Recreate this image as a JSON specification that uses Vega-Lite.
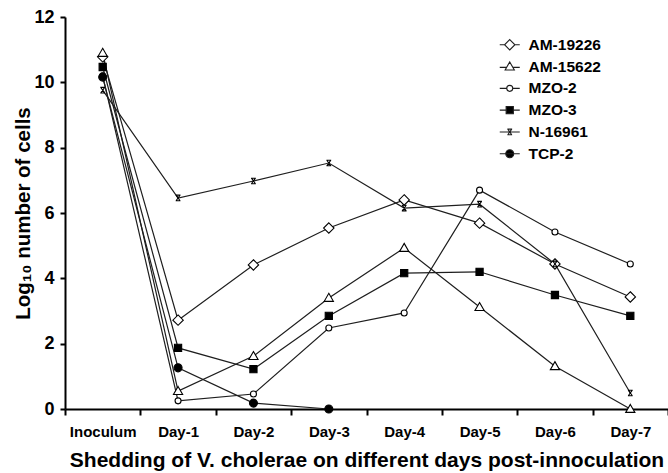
{
  "$schema": "https://vega.github.io/schema/vega-lite/v6.json",
  "width": 603,
  "height": 392,
  "autosize": "none",
  "padding": {"left": 65, "top": 17, "right": 0, "bottom": 64},
  "background": "white",
  "config": {"view": {"stroke": null}, "font": "Liberation Sans"},
  "data": {"values": [
    {"series": "AM-19226", "day": "Inoculum", "value": 10.78},
    {"series": "AM-19226", "day": "Day-1", "value": 2.72},
    {"series": "AM-19226", "day": "Day-2", "value": 4.41},
    {"series": "AM-19226", "day": "Day-3", "value": 5.54},
    {"series": "AM-19226", "day": "Day-4", "value": 6.4},
    {"series": "AM-19226", "day": "Day-5", "value": 5.69},
    {"series": "AM-19226", "day": "Day-6", "value": 4.44},
    {"series": "AM-19226", "day": "Day-7", "value": 3.43},
    {"series": "AM-15622", "day": "Inoculum", "value": 10.9},
    {"series": "AM-15622", "day": "Day-1", "value": 0.55},
    {"series": "AM-15622", "day": "Day-2", "value": 1.62},
    {"series": "AM-15622", "day": "Day-3", "value": 3.4},
    {"series": "AM-15622", "day": "Day-4", "value": 4.93},
    {"series": "AM-15622", "day": "Day-5", "value": 3.12},
    {"series": "AM-15622", "day": "Day-6", "value": 1.31},
    {"series": "AM-15622", "day": "Day-7", "value": 0.0},
    {"series": "MZO-2", "day": "Inoculum", "value": 10.2},
    {"series": "MZO-2", "day": "Day-1", "value": 0.25},
    {"series": "MZO-2", "day": "Day-2", "value": 0.46},
    {"series": "MZO-2", "day": "Day-3", "value": 2.48},
    {"series": "MZO-2", "day": "Day-4", "value": 2.94},
    {"series": "MZO-2", "day": "Day-5", "value": 6.7},
    {"series": "MZO-2", "day": "Day-6", "value": 5.42},
    {"series": "MZO-2", "day": "Day-7", "value": 4.44},
    {"series": "MZO-3", "day": "Inoculum", "value": 10.47},
    {"series": "MZO-3", "day": "Day-1", "value": 1.87},
    {"series": "MZO-3", "day": "Day-2", "value": 1.22},
    {"series": "MZO-3", "day": "Day-3", "value": 2.85},
    {"series": "MZO-3", "day": "Day-4", "value": 4.16},
    {"series": "MZO-3", "day": "Day-5", "value": 4.2},
    {"series": "MZO-3", "day": "Day-6", "value": 3.49},
    {"series": "MZO-3", "day": "Day-7", "value": 2.85},
    {"series": "N-16961", "day": "Inoculum", "value": 9.76},
    {"series": "N-16961", "day": "Day-1", "value": 6.46},
    {"series": "N-16961", "day": "Day-2", "value": 6.98},
    {"series": "N-16961", "day": "Day-3", "value": 7.53},
    {"series": "N-16961", "day": "Day-4", "value": 6.15},
    {"series": "N-16961", "day": "Day-5", "value": 6.27},
    {"series": "N-16961", "day": "Day-6", "value": 4.44},
    {"series": "N-16961", "day": "Day-7", "value": 0.49},
    {"series": "TCP-2", "day": "Inoculum", "value": 10.16},
    {"series": "TCP-2", "day": "Day-1", "value": 1.26},
    {"series": "TCP-2", "day": "Day-2", "value": 0.18},
    {"series": "TCP-2", "day": "Day-3", "value": 0.0}
  ]},
  "encoding": {
    "x": {
      "field": "day", "type": "ordinal",
      "sort": ["Inoculum", "Day-1", "Day-2", "Day-3", "Day-4", "Day-5", "Day-6", "Day-7"],
      "scale": {"type": "band", "paddingInner": 0, "paddingOuter": 0},
      "axis": {
        "labelAngle": 0, "tickBand": "extent", "domainColor": "black", "domainWidth": 2,
        "tickColor": "black", "tickWidth": 2, "tickSize": 6,
        "labelFontSize": 15, "labelFontWeight": "bold", "labelColor": "black", "labelPadding": 9,
        "title": "Shedding of V. cholerae on different days post-innoculation",
        "titleFontSize": 21, "titleFontWeight": "bold", "titleColor": "black", "titlePadding": 10,
        "grid": false
      }
    },
    "y": {
      "field": "value", "type": "quantitative",
      "scale": {"domain": [0, 12], "nice": false},
      "axis": {
        "values": [0, 2, 4, 6, 8, 10, 12], "domainColor": "black", "domainWidth": 2,
        "tickColor": "black", "tickWidth": 2, "tickSize": 5,
        "labelFontSize": 18, "labelFontWeight": "bold", "labelColor": "black", "labelPadding": 6,
        "title": "Log₁₀ number of cells", "titleFontSize": 20.5, "titleFontWeight": "bold",
        "titleColor": "black", "titlePadding": 0, "grid": false
      }
    }
  },
  "layer": [
    {
      "mark": {"type": "line", "strokeWidth": 1.2},
      "encoding": {
        "color": {
          "field": "series", "type": "nominal",
          "scale": {
            "domain": ["AM-19226", "AM-15622", "MZO-2", "MZO-3", "N-16961", "TCP-2"],
            "range": ["#1e1e1e", "#1e1e1e", "#1e1e1e", "#1e1e1e", "#1e1e1e", "#1e1e1e"]
          },
          "legend": {
            "title": null, "orient": "none", "legendX": 437, "legendY": 20, "padding": 0,
            "labelFontSize": 15.5, "labelFontWeight": "bold", "labelColor": "black", "labelOffset": 11,
            "rowPadding": 4.8, "symbolSize": 64,
            "encode": {
              "symbols": {
                "update": {
                  "strokeWidth": {"value": 1.1},
                  "fill": {"signal": "indexof(['MZO-3', 'TCP-2'], datum.value) >= 0 ? 'black' : 'white'"},
                  "shape": {"signal": "datum.value === 'AM-19226' ? 'M-2.5,0L-1.3,0M1.3,0L2.5,0M0,-1.3L1.3,0L0,1.3L-1.3,0Z' : datum.value === 'AM-15622' ? 'M-2.5,0.2L-0.6,0.2M0.6,0.2L2.5,0.2M0,-1.15L1.15,0.85L-1.15,0.85Z' : datum.value === 'MZO-2' ? 'M-2.5,0L-0.75,0M0.75,0L2.5,0M-0.75,0A0.75,0.75 0 1,0 0.75,0A0.75,0.75 0 1,0 -0.75,0Z' : datum.value === 'MZO-3' ? 'M-2.5,0L-0.9,0M0.9,0L2.5,0M-0.9,-0.9L0.9,-0.9L0.9,0.9L-0.9,0.9Z' : datum.value === 'N-16961' ? 'M-2.5,0L2.5,0M-0.6,-0.7L0.6,-0.7M-0.6,0.7L0.6,0.7M-0.5,-0.7L0.5,0.7M0.5,-0.7L-0.5,0.7' : 'M-2.5,0L2.5,0M-1,0A1,1 0 1,0 1,0A1,1 0 1,0 -1,0Z'"}
                }
              }
            }
          }
        }
      }
    },
    {
      "mark": {"type": "point", "filled": true, "stroke": "black", "strokeWidth": 1.1, "opacity": 1, "size": 64},
      "encoding": {
        "shape": {
          "field": "series", "type": "nominal",
          "scale": {
            "domain": ["TCP-2", "N-16961", "MZO-3", "MZO-2", "AM-15622", "AM-19226"],
            "range": [
              "M-1,0A1,1 0 1,0 1,0A1,1 0 1,0 -1,0Z",
              "M-0.6,-0.7H0.6M-0.6,0.7H0.6M-0.5,-0.7L0.5,0.7M0.5,-0.7L-0.5,0.7",
              "M-0.9,-0.9H0.9V0.9H-0.9Z",
              "M-0.75,0A0.75,0.75 0 1,0 0.75,0A0.75,0.75 0 1,0 -0.75,0Z",
              "M0,-1.15L1.15,0.85L-1.15,0.85Z",
              "M0,-1.3L1.3,0L0,1.3L-1.3,0Z"
            ]
          },
          "legend": null
        },
        "fill": {
          "field": "series", "type": "nominal",
          "scale": {
            "domain": ["TCP-2", "N-16961", "MZO-3", "MZO-2", "AM-15622", "AM-19226"],
            "range": ["black", "white", "black", "white", "white", "white"]
          },
          "legend": null
        }
      }
    }
  ]
}
